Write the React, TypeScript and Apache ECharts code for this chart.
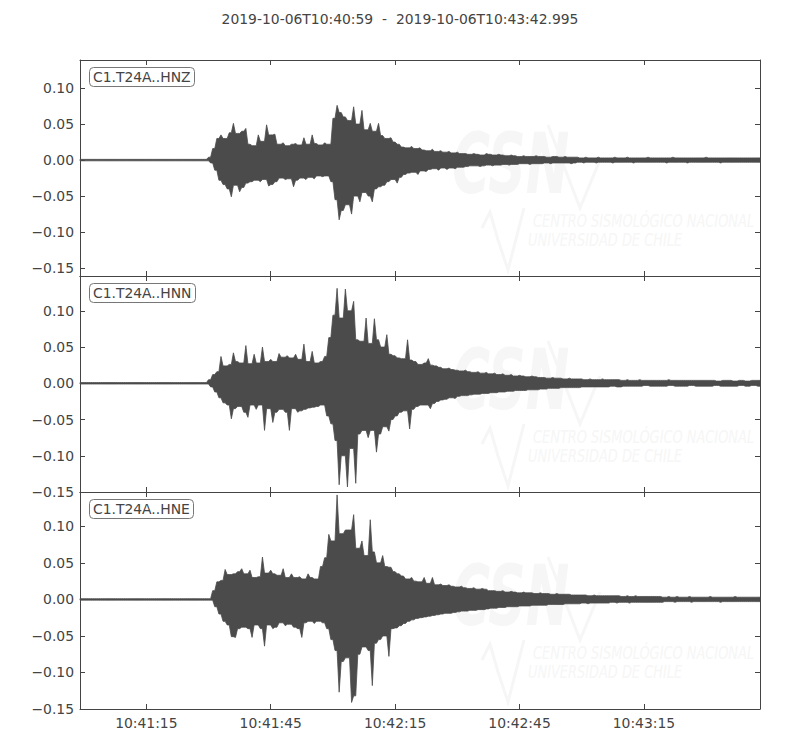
import { useEffect, useRef } from "react";
import * as echarts from "echarts";

const chartTitle = "2019-10-06T10:40:59  -  2019-10-06T10:43:42.995";
const channels = ["C1.T24A..HNZ", "C1.T24A..HNN", "C1.T24A..HNE"];
// seconds after 10:40:59
const timeTicks = [16, 46, 76, 106, 136];
const timeTickLabels = ["10:41:15", "10:41:45", "10:42:15", "10:42:45", "10:43:15"];
const ampTicks = [-0.15, -0.1, -0.05, 0, 0.05, 0.1];
const yLimits = [
  [-0.161, 0.139],
  [-0.15, 0.148],
  [-0.15, 0.147],
];
const duration = 163.995;

// per-second envelope (max / min) of each trace
const hnzHigh = [
  0.001, 0.001, 0.001, 0.001, 0.001, 0.001, 0.001, 0.001, 0.001, 0.001,
  0.001, 0.001, 0.001, 0.001, 0.001, 0.001, 0.001, 0.001, 0.001, 0.001,
  0.001, 0.001, 0.001, 0.001, 0.001, 0.001, 0.001, 0.001, 0.001, 0.001,
  0.001, 0.004, 0.016, 0.03, 0.035, 0.03, 0.038, 0.051, 0.037, 0.04,
  0.044, 0.022, 0.02, 0.035, 0.026, 0.049, 0.035, 0.036, 0.022, 0.024,
  0.02, 0.022, 0.023, 0.021, 0.031, 0.022, 0.035, 0.023, 0.021, 0.024,
  0.022, 0.058, 0.076, 0.066, 0.06, 0.055, 0.074, 0.05, 0.069, 0.042,
  0.051, 0.04, 0.051, 0.034, 0.03, 0.031, 0.025, 0.022, 0.018, 0.017,
  0.019, 0.016, 0.017, 0.014, 0.013, 0.015, 0.012, 0.013, 0.011, 0.012,
  0.01, 0.011, 0.009, 0.009, 0.008, 0.009, 0.008, 0.007, 0.009, 0.008,
  0.007, 0.008, 0.007, 0.006, 0.007, 0.006, 0.005, 0.006, 0.005, 0.005,
  0.006, 0.005, 0.005, 0.004, 0.005, 0.005, 0.004, 0.005, 0.004, 0.004,
  0.004, 0.003, 0.004, 0.003, 0.003, 0.004, 0.003, 0.003, 0.003, 0.004,
  0.003, 0.003, 0.004, 0.003, 0.003, 0.003, 0.003, 0.004, 0.003, 0.003,
  0.003, 0.003, 0.003, 0.004, 0.003, 0.003, 0.003, 0.003, 0.003, 0.003,
  0.003, 0.004, 0.003, 0.003, 0.003, 0.003, 0.003, 0.003, 0.003, 0.003,
  0.003, 0.003, 0.003, 0.003,
];
const hnzLow = [
  -0.001, -0.001, -0.001, -0.001, -0.001, -0.001, -0.001, -0.001, -0.001, -0.001,
  -0.001, -0.001, -0.001, -0.001, -0.001, -0.001, -0.001, -0.001, -0.001, -0.001,
  -0.001, -0.001, -0.001, -0.001, -0.001, -0.001, -0.001, -0.001, -0.001, -0.001,
  -0.001, -0.004, -0.014, -0.028, -0.034, -0.04, -0.051, -0.035, -0.044, -0.038,
  -0.032, -0.03, -0.028, -0.03, -0.027, -0.036, -0.034, -0.03, -0.025, -0.027,
  -0.026, -0.037, -0.028, -0.025, -0.027, -0.024, -0.026, -0.022, -0.023, -0.022,
  -0.03, -0.055, -0.083, -0.07, -0.062, -0.075, -0.05, -0.058, -0.045, -0.05,
  -0.058, -0.04, -0.037, -0.035, -0.03, -0.027, -0.032, -0.024, -0.02, -0.018,
  -0.017, -0.02, -0.015, -0.016, -0.013, -0.012, -0.014, -0.011, -0.013, -0.011,
  -0.012, -0.01, -0.01, -0.009, -0.008, -0.008, -0.009, -0.008, -0.007, -0.008,
  -0.007, -0.007, -0.006, -0.007, -0.006, -0.006, -0.005, -0.005, -0.006, -0.005,
  -0.005, -0.005, -0.004, -0.005, -0.004, -0.004, -0.004, -0.004, -0.005, -0.004,
  -0.003, -0.004, -0.003, -0.003, -0.004, -0.003, -0.003, -0.003, -0.004, -0.003,
  -0.003, -0.003, -0.003, -0.004, -0.003, -0.003, -0.003, -0.003, -0.003, -0.003,
  -0.003, -0.004, -0.003, -0.003, -0.003, -0.003, -0.004, -0.003, -0.003, -0.003,
  -0.003, -0.003, -0.003, -0.003, -0.004, -0.003, -0.003, -0.003, -0.003, -0.003,
  -0.003, -0.003, -0.003, -0.003,
];
const hnnHigh = [
  0.001, 0.001, 0.001, 0.001, 0.001, 0.001, 0.001, 0.001, 0.001, 0.001,
  0.001, 0.001, 0.001, 0.001, 0.001, 0.001, 0.001, 0.001, 0.001, 0.001,
  0.001, 0.001, 0.001, 0.001, 0.001, 0.001, 0.001, 0.001, 0.001, 0.001,
  0.001, 0.005, 0.012, 0.016, 0.037, 0.024, 0.026, 0.042, 0.03, 0.028,
  0.052, 0.027, 0.04, 0.028, 0.05, 0.03, 0.033, 0.03, 0.041, 0.036,
  0.038, 0.035, 0.04, 0.033, 0.054, 0.03, 0.044, 0.028, 0.03, 0.037,
  0.063, 0.094, 0.131, 0.09, 0.13, 0.1, 0.113, 0.06, 0.058, 0.09,
  0.055, 0.089, 0.06, 0.05, 0.067, 0.04, 0.038, 0.035, 0.034, 0.06,
  0.032, 0.03, 0.026, 0.028, 0.034, 0.025, 0.024, 0.022, 0.02, 0.021,
  0.019, 0.018, 0.017, 0.018, 0.016, 0.015, 0.016, 0.014, 0.015, 0.013,
  0.014, 0.012, 0.013, 0.011, 0.012, 0.01, 0.011, 0.01, 0.009, 0.01,
  0.009, 0.008, 0.008, 0.007, 0.008, 0.007, 0.007, 0.006, 0.007, 0.006,
  0.006, 0.006, 0.005, 0.006, 0.005, 0.005, 0.006, 0.005, 0.005, 0.005,
  0.005, 0.004, 0.005, 0.004, 0.004, 0.005, 0.004, 0.004, 0.004, 0.004,
  0.004, 0.004, 0.005, 0.004, 0.004, 0.004, 0.004, 0.004, 0.004, 0.004,
  0.004, 0.004, 0.004, 0.004, 0.003, 0.004, 0.004, 0.004, 0.003, 0.004,
  0.004, 0.003, 0.004, 0.004,
];
const hnnLow = [
  -0.001, -0.001, -0.001, -0.001, -0.001, -0.001, -0.001, -0.001, -0.001, -0.001,
  -0.001, -0.001, -0.001, -0.001, -0.001, -0.001, -0.001, -0.001, -0.001, -0.001,
  -0.001, -0.001, -0.001, -0.001, -0.001, -0.001, -0.001, -0.001, -0.001, -0.001,
  -0.001, -0.005, -0.012, -0.02, -0.027, -0.03, -0.049, -0.035, -0.032, -0.04,
  -0.047, -0.03, -0.036, -0.03, -0.065, -0.035, -0.054, -0.04, -0.036, -0.04,
  -0.065, -0.035, -0.04, -0.038, -0.036, -0.034, -0.033, -0.032, -0.03, -0.045,
  -0.056, -0.079, -0.14, -0.1, -0.143, -0.09, -0.138, -0.07, -0.065, -0.075,
  -0.065, -0.095, -0.07, -0.06, -0.066, -0.05, -0.045, -0.04, -0.038, -0.063,
  -0.036, -0.032, -0.03, -0.03, -0.035, -0.028, -0.025, -0.023, -0.022, -0.02,
  -0.021, -0.018, -0.017, -0.017, -0.016, -0.015, -0.015, -0.014, -0.014, -0.013,
  -0.013, -0.012, -0.012, -0.011, -0.011, -0.01, -0.01, -0.01, -0.009, -0.009,
  -0.009, -0.008, -0.008, -0.007, -0.007, -0.007, -0.006, -0.006, -0.006, -0.006,
  -0.006, -0.005, -0.005, -0.005, -0.005, -0.005, -0.005, -0.005, -0.004, -0.005,
  -0.005, -0.004, -0.004, -0.004, -0.004, -0.004, -0.003, -0.004, -0.004, -0.004,
  -0.004, -0.004, -0.003, -0.004, -0.004, -0.004, -0.004, -0.003, -0.004, -0.004,
  -0.004, -0.004, -0.004, -0.003, -0.004, -0.004, -0.004, -0.004, -0.004, -0.003,
  -0.004, -0.004, -0.003, -0.004,
];
const hneHigh = [
  0.001, 0.001, 0.001, 0.001, 0.001, 0.001, 0.001, 0.001, 0.001, 0.001,
  0.001, 0.001, 0.001, 0.001, 0.001, 0.001, 0.001, 0.001, 0.001, 0.001,
  0.001, 0.001, 0.001, 0.001, 0.001, 0.001, 0.001, 0.001, 0.001, 0.001,
  0.001, 0.001, 0.012, 0.024, 0.026, 0.041, 0.034, 0.035, 0.038, 0.042,
  0.035, 0.04, 0.03, 0.031, 0.058, 0.036, 0.04, 0.035, 0.033, 0.042,
  0.03, 0.035, 0.03, 0.031, 0.028, 0.035, 0.03, 0.028, 0.045, 0.057,
  0.089, 0.08, 0.143, 0.09, 0.095, 0.095, 0.116, 0.07, 0.08, 0.06,
  0.109, 0.065, 0.05, 0.06, 0.045, 0.044, 0.038, 0.035, 0.032, 0.028,
  0.03, 0.025, 0.024, 0.03, 0.022, 0.03, 0.02, 0.021, 0.019, 0.02,
  0.018, 0.017, 0.018, 0.016, 0.015, 0.016, 0.014, 0.015, 0.014, 0.012,
  0.012, 0.011, 0.012, 0.01, 0.011, 0.01, 0.009, 0.01, 0.009, 0.009,
  0.008, 0.009, 0.008, 0.008, 0.007, 0.008, 0.007, 0.007, 0.007, 0.006,
  0.006, 0.006, 0.006, 0.005, 0.006, 0.005, 0.005, 0.005, 0.005, 0.005,
  0.005, 0.004, 0.005, 0.004, 0.005, 0.004, 0.004, 0.004, 0.004, 0.004,
  0.004, 0.003, 0.004, 0.003, 0.004, 0.003, 0.003, 0.004, 0.003, 0.003,
  0.003, 0.003, 0.004, 0.003, 0.003, 0.003, 0.003, 0.003, 0.004, 0.003,
  0.003, 0.003, 0.003, 0.003,
];
const hneLow = [
  -0.001, -0.001, -0.001, -0.001, -0.001, -0.001, -0.001, -0.001, -0.001, -0.001,
  -0.001, -0.001, -0.001, -0.001, -0.001, -0.001, -0.001, -0.001, -0.001, -0.001,
  -0.001, -0.001, -0.001, -0.001, -0.001, -0.001, -0.001, -0.001, -0.001, -0.001,
  -0.001, -0.001, -0.01, -0.02, -0.03, -0.035, -0.051, -0.052, -0.04, -0.038,
  -0.04, -0.052, -0.035, -0.04, -0.064, -0.035, -0.04, -0.038, -0.032, -0.036,
  -0.034, -0.038, -0.04, -0.052, -0.032, -0.03, -0.033, -0.03, -0.032, -0.04,
  -0.055, -0.07, -0.127, -0.085, -0.08, -0.141, -0.132, -0.075, -0.065, -0.07,
  -0.118, -0.06, -0.055, -0.05, -0.078, -0.04, -0.039, -0.036, -0.033, -0.03,
  -0.028, -0.026, -0.025, -0.024, -0.023, -0.022, -0.021, -0.02, -0.019, -0.019,
  -0.018, -0.017, -0.016, -0.016, -0.015, -0.015, -0.014, -0.014, -0.013, -0.012,
  -0.012, -0.011, -0.011, -0.01, -0.01, -0.01, -0.009, -0.009, -0.009, -0.008,
  -0.008, -0.008, -0.008, -0.007, -0.007, -0.007, -0.007, -0.006, -0.006, -0.006,
  -0.006, -0.005, -0.006, -0.005, -0.005, -0.005, -0.005, -0.005, -0.004, -0.005,
  -0.004, -0.004, -0.005, -0.004, -0.004, -0.004, -0.004, -0.004, -0.004, -0.004,
  -0.004, -0.003, -0.003, -0.004, -0.003, -0.003, -0.003, -0.004, -0.003, -0.003,
  -0.003, -0.003, -0.003, -0.003, -0.004, -0.003, -0.003, -0.003, -0.003, -0.003,
  -0.003, -0.003, -0.003, -0.003,
];
const traces = [
  [hnzHigh, hnzLow],
  [hnnHigh, hnnLow],
  [hneHigh, hneLow],
];

const FONT = "DejaVu Sans";
const INK = "#444";
const TRACE = "#4b4b4b";

const fmtAmp = (v: number) => (v < 0 ? "\u2212" : "") + Math.abs(v).toFixed(2);

// outline of the densely sampled trace: each second's peak as a narrow needle,
// the upper edge forward and the lower edge (half a second later) backward
function outline(high: number[], low: number[]) {
  const upper: number[][] = [];
  const lower: number[][] = [];
  const n = high.length;
  for (let i = 0; i < n; i++) {
    const nh = i + 1 < n ? high[i + 1] : high[i];
    const nl = i + 1 < n ? low[i + 1] : low[i];
    upper.push([i, high[i]], [i + 0.5, Math.min(high[i], nh)]);
    lower.push([i + 0.5, low[i]], [i + 1, Math.max(low[i], nl)]);
  }
  upper.push([duration, high[n - 1]]);
  lower.unshift([0, low[0]]);
  lower[lower.length - 1] = [duration, low[n - 1]];
  return upper.concat(lower.reverse());
}

function getOption() {
  const tops = [60, 276, 492];
  const heights = [216, 216, 217];
  const grid = tops.map((top, i) => ({ left: 80, top, width: 680, height: heights[i] }));
  const line = { show: true, onZero: false, lineStyle: { color: INK, width: 1 } };
  const tick = { show: true, inside: true, length: 5, lineStyle: { color: INK, width: 1 } };

  const xAxis: any[] = [];
  const yAxis: any[] = [];
  ["bottom", "top"].forEach((position) => {
    tops.forEach((_, i) => {
      const labelled = position === "bottom" && i === 2;
      xAxis.push({
        type: "value",
        gridIndex: i,
        position,
        min: 0,
        max: duration,
        axisLine: line,
        axisTick: { ...tick, customValues: timeTicks },
        axisLabel: {
          show: labelled,
          customValues: timeTicks,
          formatter: (v: number) => timeTickLabels[timeTicks.indexOf(v)] ?? "",
          color: INK,
          fontFamily: FONT,
          fontSize: 13.9,
          margin: 7,
        },
        splitLine: { show: false },
      });
    });
  });
  ["left", "right"].forEach((position) => {
    tops.forEach((_, i) => {
      yAxis.push({
        type: "value",
        gridIndex: i,
        position,
        min: yLimits[i][0],
        max: yLimits[i][1],
        axisLine: line,
        axisTick: { ...tick, customValues: ampTicks },
        axisLabel: {
          show: position === "left",
          customValues: ampTicks,
          formatter: fmtAmp,
          color: INK,
          fontFamily: FONT,
          fontSize: 13.9,
          margin: 6,
        },
        splitLine: { show: false },
      });
    });
  });

  const series = traces.map(([high, low], i) => {
    const pts = outline(high, low);
    return {
      type: "custom",
      coordinateSystem: "cartesian2d",
      xAxisIndex: i,
      yAxisIndex: i,
      data: high.map((h, k) => [k, h, low[k]]),
      encode: { x: 0, y: [1, 2] },
      silent: true,
      z: 3,
      renderItem: (params: any, api: any) => {
        if (params.dataIndex !== 0) return null;
        return {
          type: "polygon",
          shape: { points: pts.map((p) => api.coord(p)) },
          style: { fill: TRACE, stroke: TRACE, lineWidth: 0.8 },
        };
      },
    };
  });

  const labels = channels.map((name, i) => ({
    text: name,
    left: 89,
    top: tops[i] + 7,
    padding: [3, 4, 3, 4],
    backgroundColor: "#fff",
    borderColor: "#777",
    borderWidth: 1,
    borderRadius: 4,
    textStyle: { color: INK, fontFamily: FONT, fontSize: 13.9, fontWeight: "normal" },
  }));

  const faint = "#f6f6f6";
  const watermark: any[] = [];
  tops.forEach((top) => {
    const dy = top - 60;
    watermark.push(
      {
        type: "text",
        x: 452,
        y: 122 + dy,
        scaleX: 0.62,
        z: 0,
        silent: true,
        style: { text: "CSN", fill: faint, font: "italic bold 84px DejaVu Sans", verticalAlign: "top" },
      },
      {
        type: "polyline",
        z: 0,
        silent: true,
        shape: { points: [[548, 125 + dy], [580, 208 + dy], [600, 160 + dy]] },
        style: { stroke: faint, lineWidth: 3, fill: null },
      },
      {
        type: "polyline",
        z: 0,
        silent: true,
        shape: {
          points: [
            [482, 228 + dy],
            [490, 212 + dy],
            [498, 240 + dy],
            [508, 270 + dy],
            [524, 208 + dy],
          ],
        },
        style: { stroke: faint, lineWidth: 3, fill: null },
      },
      {
        type: "text",
        x: 533,
        y: 212 + dy,
        scaleX: 0.8,
        z: 0,
        silent: true,
        style: {
          text: "CENTRO SISMOLÓGICO NACIONAL",
          fill: faint,
          font: "italic 18px 'DejaVu Sans Condensed'",
          verticalAlign: "top",
        },
      },
      {
        type: "text",
        x: 528,
        y: 231 + dy,
        scaleX: 0.8,
        z: 0,
        silent: true,
        style: {
          text: "UNIVERSIDAD DE CHILE",
          fill: faint,
          font: "italic 18px 'DejaVu Sans Condensed'",
          verticalAlign: "top",
        },
      }
    );
  });

  return {
    animation: false,
    backgroundColor: "#fff",
    title: [
      {
        text: chartTitle,
        left: "center",
        top: 12,
        padding: 0,
        textStyle: { color: INK, fontFamily: FONT, fontSize: 13.9, fontWeight: "normal" },
      },
      ...labels,
    ],
    grid,
    xAxis,
    yAxis,
    graphic: watermark,
    series,
  };
}

export default function App() {
  const ref = useRef<HTMLDivElement>(null);
  useEffect(() => {
    const chart = echarts.init(ref.current, null, { renderer: "svg" });
    chart.setOption(getOption() as any);
    return () => {
      chart.dispose();
    };
  }, []);
  return <div ref={ref} style={{ position: "absolute", left: 0, top: 0, width: 800, height: 750 }} />;
}
